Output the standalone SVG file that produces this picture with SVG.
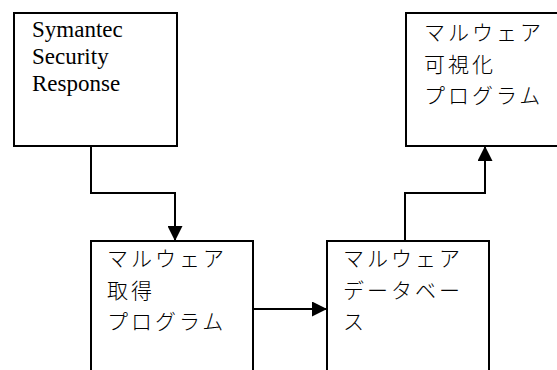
<svg xmlns="http://www.w3.org/2000/svg" width="557" height="370" viewBox="0 0 557 370">
<style>
.box{fill:#fff;stroke:#000;stroke-width:2}
.lbl{font-family:"Liberation Serif","Noto Sans CJK JP",serif;font-size:23px;fill:#000}
.jp{font-family:"Noto Sans CJK JP",sans-serif;font-size:21px;font-weight:300;letter-spacing:3px;fill:#000}
.edge{fill:none;stroke:#000;stroke-width:2}
</style>
<defs>
<marker id="arr" markerUnits="userSpaceOnUse" markerWidth="15" markerHeight="15" viewBox="0 0 15 15" refX="14" refY="7.5" orient="auto">
<path d="M0,0 L15,7.5 L0,15 z" fill="#000"/>
</marker>
</defs>
<rect width="557" height="370" fill="#fff"/>
<g id="connectors">
<path class="edge" d="M91,146 V193 H175 V240" marker-end="url(#arr)"/>
<path class="edge" d="M253,309 H326" marker-end="url(#arr)"/>
<path class="edge" d="M405,241 V193 H485 V147" marker-end="url(#arr)"/>
</g>
<g id="symantec">
<rect class="box" x="14" y="13" width="163" height="133"/>
<text class="lbl"><tspan x="32" y="37">Symantec</tspan><tspan x="32" y="64">Security</tspan><tspan x="32" y="91">Response</tspan></text>
</g>
<g id="acquire">
<rect class="box" x="91" y="241" width="162" height="140"/>
<text class="jp"><tspan x="107" y="266">マルウェア</tspan><tspan x="107" y="298">取得</tspan><tspan x="107" y="329">プログラム</tspan></text>
</g>
<g id="database">
<rect class="box" x="327" y="241" width="162" height="140"/>
<text class="jp"><tspan x="343" y="266">マルウェア</tspan><tspan x="343" y="298">データベー</tspan><tspan x="343" y="329">ス</tspan></text>
</g>
<g id="visualize">
<rect class="box" x="406" y="13" width="163" height="133"/>
<text class="jp"><tspan x="424" y="40">マルウェア</tspan><tspan x="424" y="72">可視化</tspan><tspan x="424" y="103">プログラム</tspan></text>
</g>
</svg>
